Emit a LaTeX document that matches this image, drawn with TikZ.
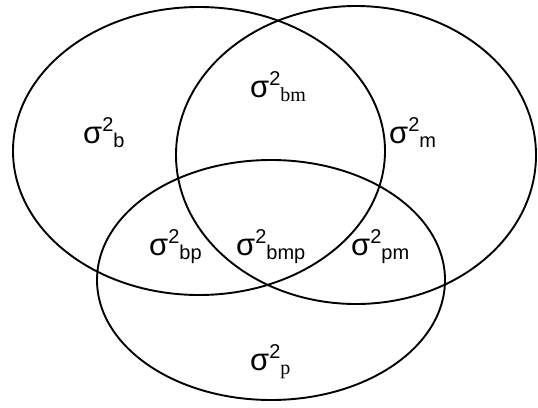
\documentclass[tikz,border=0pt]{standalone}
\usepackage{fontspec}
\setmainfont{Liberation Sans}
\newfontfamily\timesfont{Liberation Serif}
\newcommand{\sqsup}{\raisebox{12pt}{\fontsize{20}{22}\selectfont 2}}
\newcommand{\sqsub}[1]{\raisebox{-4pt}{\fontsize{20}{22}\selectfont #1}}
\tikzset{
  set/.style={
    draw=black,
    line width=1.9pt
  },
  part/.style={
    anchor=base west,
    inner sep=0pt,
    text=black,
    font=\fontsize{31}{33}\selectfont
  }
}

\begin{document}
\begin{tikzpicture}[x=1pt,y=-1pt]
  \useasboundingbox (0,0) rectangle (538,407);

  % the three sets
  \draw[set] (199,151) ellipse [x radius=186pt, y radius=144pt];
  \draw[set] (356,155) ellipse [x radius=180pt, y radius=149pt];
  \draw[set] (271,280) ellipse [x radius=174pt, y radius=120pt];

  % variance parts
  \node[part] (varb)   at (83,143)  {σ\sqsup\sqsub{b}};
  \node[part] (varbm)  at (250,97)  {σ\sqsup\sqsub{\timesfont bm}};
  \node[part] (varm)   at (389,143) {σ\sqsup\sqsub{m}};
  \node[part] (varbp)  at (149,255) {σ\sqsup\sqsub{bp}};
  \node[part] (varbmp) at (236,255) {σ\sqsup\sqsub{bmp}};
  \node[part] (varpm)  at (351,255) {σ\sqsup\sqsub{pm}};
  \node[part] (varp)   at (250,370) {σ\sqsup\sqsub{\timesfont p}};
\end{tikzpicture}
\end{document}
